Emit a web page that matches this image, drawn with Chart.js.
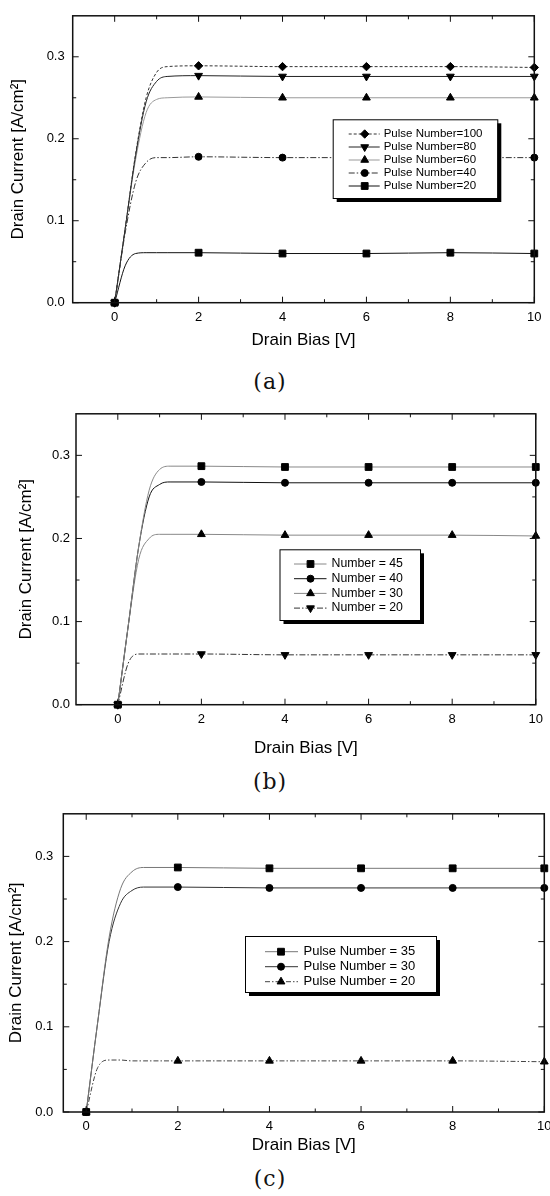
<!DOCTYPE html>
<html>
<head>
<meta charset="utf-8">
<script src="https://cdn.jsdelivr.net/npm/chart.js@4.4.1/dist/chart.umd.min.js"></script>
<style>
  html, body { margin: 0; padding: 0; background: #fff; width: 550px; height: 1196px; overflow: hidden; }
  .panel { position: absolute; left: 0; }
  .cap { position: absolute; left: -5px; width: 550px; text-align: center; font-family: "DejaVu Serif", serif; font-size: 22px; letter-spacing: 1px; color: #111; }
</style>
</head>
<body>
<div class="panel" style="top:0px"><canvas id="chartA" width="550" height="360"></canvas></div>
<div class="cap" style="top:369px">(a)</div>
<div class="panel" style="top:400px"><canvas id="chartB" width="550" height="365"></canvas></div>
<div class="cap" style="top:769px">(b)</div>
<div class="panel" style="top:796px"><canvas id="chartC" width="560" height="365"></canvas></div>
<div class="cap" style="top:1166px">(c)</div>

<script>
// drain bias points (V)
const biasV = [0, 0.25, 0.5, 0.75, 1.0, 1.25, 2, 4, 6, 8, 10];
const markerBias = [0, 2, 4, 6, 8, 10];
const xTickLabels = [0, 2, 4, 6, 8, 10];
const xMinorTicks = [1, 3, 5, 7, 9];
const yTickLabels = [0, 0.1, 0.2, 0.3];
const yMinorTicks = [0.05, 0.15, 0.25];

// (a)
const labelsA = ["Pulse Number=100", "Pulse Number=80", "Pulse Number=60", "Pulse Number=40", "Pulse Number=20"];
const currentA100 = [0, 0.09, 0.182, 0.25, 0.281, 0.288, 0.289, 0.288, 0.288, 0.288, 0.287];
const currentA80  = [0, 0.09, 0.18, 0.245, 0.27, 0.276, 0.277, 0.276, 0.276, 0.276, 0.276];
const currentA60  = [0, 0.09, 0.175, 0.232, 0.248, 0.25, 0.251, 0.25, 0.25, 0.25, 0.25];
const currentA40  = [0, 0.085, 0.147, 0.171, 0.177, 0.177, 0.178, 0.177, 0.177, 0.177, 0.177];
const currentA20  = [0, 0.045, 0.06, 0.061, 0.061, 0.061, 0.061, 0.06, 0.06, 0.061, 0.06];

// (b)
const labelsB = ["Number = 45", "Number = 40", "Number = 30", "Number = 20"];
const currentB45 = [0, 0.095, 0.19, 0.258, 0.283, 0.287, 0.287, 0.286, 0.286, 0.286, 0.286];
const currentB40 = [0, 0.095, 0.19, 0.25, 0.265, 0.268, 0.268, 0.267, 0.267, 0.267, 0.267];
const currentB30 = [0, 0.095, 0.175, 0.2, 0.205, 0.205, 0.205, 0.204, 0.204, 0.204, 0.203];
const currentB20 = [0, 0.05, 0.061, 0.061, 0.061, 0.061, 0.061, 0.06, 0.06, 0.06, 0.06];

// (c)
const labelsC = ["Pulse Number = 35", "Pulse Number = 30", "Pulse Number = 20"];
const currentC35 = [0, 0.105, 0.205, 0.262, 0.282, 0.287, 0.287, 0.286, 0.286, 0.286, 0.286];
const currentC30 = [0, 0.105, 0.2, 0.245, 0.26, 0.264, 0.264, 0.263, 0.263, 0.263, 0.263];
const currentC20 = [0, 0.052, 0.061, 0.061, 0.06, 0.06, 0.06, 0.06, 0.06, 0.06, 0.059];

const FONT = '"Liberation Sans", Arial, sans-serif';

// frame around the plot with inward tick marks
const frame = {
  id: "frame",
  afterDatasetsDraw(chart) {
    const { ctx, chartArea: a, scales: { x, y } } = chart;
    ctx.save();
    ctx.strokeStyle = "#111";
    ctx.lineWidth = 1.5;
    ctx.strokeRect(a.left, a.top, a.right - a.left, a.bottom - a.top);
    ctx.lineWidth = 1;
    const seg = (x1, y1, x2, y2) => { ctx.beginPath(); ctx.moveTo(x1, y1); ctx.lineTo(x2, y2); ctx.stroke(); };
    const xt = (vals, len) => vals.forEach(v => {
      const p = x.getPixelForValue(v);
      seg(p, a.bottom, p, a.bottom - len);
      seg(p, a.top, p, a.top + len);
    });
    const yt = (vals, len) => vals.forEach(v => {
      const p = y.getPixelForValue(v);
      seg(a.left, p, a.left + len, p);
      seg(a.right, p, a.right - len, p);
    });
    xt(xTickLabels, 6); xt(xMinorTicks, 3.5);
    yt(yTickLabels, 6); yt(yMinorTicks, 3.5);
    ctx.restore();
  }
};

// boxed legend with drop shadow, drawn inside the plot
const boxLegend = {
  id: "boxLegend",
  afterDatasetsDraw(chart, args, o) {
    if (!o || o.x === undefined) return;
    const ctx = chart.ctx;
    ctx.save();
    ctx.fillStyle = "#000";
    ctx.fillRect(o.x + 4, o.y + 4, o.w, o.h);
    ctx.fillStyle = "#fff";
    ctx.fillRect(o.x, o.y, o.w, o.h);
    ctx.strokeStyle = "#000";
    ctx.lineWidth = 1;
    ctx.strokeRect(o.x + 0.5, o.y + 0.5, o.w, o.h);
    ctx.font = o.font;
    ctx.textBaseline = "middle";
    chart.data.datasets.forEach((ds, i) => {
      const yy = o.y + o.first + i * o.gap;
      ctx.strokeStyle = ds.borderColor;
      ctx.lineWidth = 1;
      ctx.setLineDash(ds.borderDash || []);
      ctx.beginPath(); ctx.moveTo(o.x + o.l0, yy); ctx.lineTo(o.x + o.l1, yy); ctx.stroke();
      ctx.setLineDash([]);
      ctx.fillStyle = "#000";
      ctx.strokeStyle = "#000";
      if (Chart.helpers && Chart.helpers.drawPoint) {
        Chart.helpers.drawPoint(ctx, { pointStyle: ds.pointStyle, rotation: ds.pointRotation || 0, radius: ds.markR, borderWidth: 1 }, o.x + o.m, yy);
      } else {
        ctx.beginPath(); ctx.arc(o.x + o.m, yy, ds.markR, 0, Math.PI * 2); ctx.fill();
      }
      ctx.fillStyle = "#000";
      ctx.fillText(ds.label, o.x + o.t, yy);
    });
    ctx.restore();
  }
};

function makeSets(labels, series, looks) {
  return series.map((vals, i) => ({
    label: labels[i],
    data: biasV.map((v, k) => ({ x: v, y: vals[k] })),
    borderColor: looks[i].color,
    borderDash: looks[i].dash,
    borderWidth: 1,
    pointStyle: looks[i].shape,
    pointRotation: looks[i].rot || 0,
    pointRadius: c => (c.raw && markerBias.includes(c.raw.x)) ? looks[i].r : 0,
    pointBackgroundColor: "#000",
    pointBorderColor: "#000",
    pointBorderWidth: 1,
    cubicInterpolationMode: "monotone",
    clip: false,
    markR: looks[i].r
  }));
}

function makeChart(id, sets, g) {
  return new Chart(document.getElementById(id), {
    type: "line",
    data: { datasets: sets },
    options: {
      responsive: false,
      animation: false,
      events: [],
      layout: { padding: { left: 0, top: g.top, right: g.padRight, bottom: 0 } },
      scales: {
        x: {
          type: "linear", min: g.xMin, max: 10,
          afterBuildTicks: s => { s.ticks = xTickLabels.map(v => ({ value: v })); },
          afterFit: s => { s.height = g.xAxisH; },
          grid: { display: false, drawTicks: false },
          border: { display: false },
          ticks: { color: "#000", font: { family: FONT, size: 13 }, padding: 7, maxRotation: 0, callback: v => String(v) },
          title: { display: true, text: "Drain Bias [V]", color: "#000", font: { family: FONT, size: 17 }, padding: { top: 0, bottom: g.xTitlePad } }
        },
        y: {
          type: "linear", min: 0, max: 0.35,
          afterBuildTicks: s => { s.ticks = yTickLabels.map(v => ({ value: v })); },
          afterFit: s => { s.width = g.left; },
          grid: { display: false, drawTicks: false },
          border: { display: false },
          ticks: { color: "#000", font: { family: FONT, size: 13 }, padding: g.yTickPad, callback: v => v.toFixed(1) },
          title: { display: true, text: "Drain Current [A/cm²]", color: "#000", font: { family: FONT, size: 17 }, padding: { top: g.yTitlePad, bottom: 0 } }
        }
      },
      plugins: { legend: { display: false }, tooltip: { enabled: false }, boxLegend: g.legend }
    },
    plugins: [frame, boxLegend]
  });
}

makeChart("chartA",
  makeSets(labelsA, [currentA100, currentA80, currentA60, currentA40, currentA20], [
    { color: "#333", dash: [3, 2], shape: "rectRot", r: 4.2 },
    { color: "#222", dash: [], shape: "triangle", rot: 180, r: 4.5 },
    { color: "#999", dash: [], shape: "triangle", r: 4.5 },
    { color: "#333", dash: [6, 2, 1.5, 2], shape: "circle", r: 3.5 },
    { color: "#111", dash: [], shape: "rect", r: 4.8 }
  ]),
  { top: 10, left: 72.7, padRight: 15.7, xMin: -1, xAxisH: 57.3, xTitlePad: 9.8, yTitlePad: 8.1, yTickPad: 8,
    legend: { x: 332.7, y: 119.3, w: 164.6, h: 78.7, first: 14.7, gap: 13, l0: 16, m: 32, l1: 47, t: 51, font: '11.5px ' + FONT } });

makeChart("chartB",
  makeSets(labelsB, [currentB45, currentB40, currentB30, currentB20], [
    { color: "#888", dash: [], shape: "rect", r: 4.8 },
    { color: "#111", dash: [], shape: "circle", r: 3.5 },
    { color: "#888", dash: [], shape: "triangle", r: 4.5 },
    { color: "#333", dash: [6, 2, 1.5, 2], shape: "triangle", rot: 180, r: 4.5 }
  ]),
  { top: 13.3, left: 76, padRight: 12.7, xMin: -1, xAxisH: 60.3, xTitlePad: 6.5, yTitlePad: 15.8, yTickPad: 6,
    legend: { x: 279.5, y: 149.3, w: 140.5, h: 70.7, first: 14.7, gap: 14.7, l0: 14.5, m: 31, l1: 47, t: 52, font: '12.3px ' + FONT } });

makeChart("chartC",
  makeSets(labelsC, [currentC35, currentC30, currentC20], [
    { color: "#777", dash: [], shape: "rect", r: 4.8 },
    { color: "#333", dash: [], shape: "circle", r: 3.5 },
    { color: "#444", dash: [5, 2, 1.5, 2], shape: "triangle", r: 4.5 }
  ]),
  { top: 10, left: 63.3, padRight: 15.7, xMin: -0.5, xAxisH: 49, xTitlePad: 5.8, yTitlePad: 6.5, yTickPad: 10,
    legend: { x: 245, y: 140, w: 191, h: 56, first: 15.7, gap: 15, l0: 20, m: 36, l1: 53, t: 58.5, font: '13px ' + FONT } });
</script>
</body>
</html>
